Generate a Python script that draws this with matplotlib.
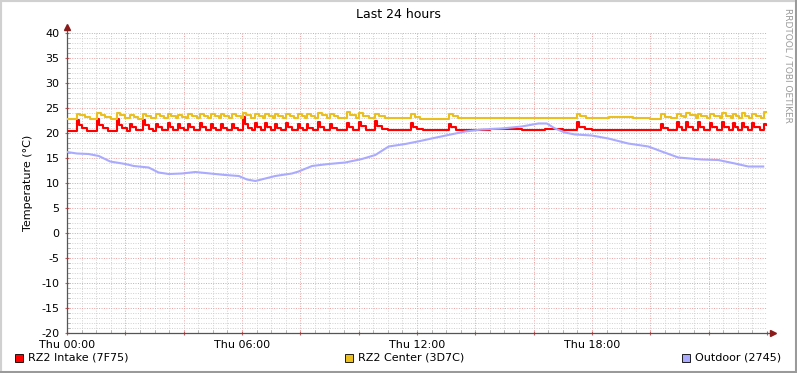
import matplotlib
matplotlib.use("Agg")
import matplotlib.pyplot as plt
from matplotlib.patches import Rectangle
from matplotlib.ticker import MultipleLocator

# hours since Thu 00:00, temperature in degC
intake = [
    (0.00, 20.4), (0.34, 22.6), (0.40, 21.6), (0.52, 21.0), (0.70, 20.4),
    (1.03, 22.9), (1.09, 21.7), (1.22, 21.0), (1.40, 20.4),
    (1.71, 22.9), (1.77, 21.6), (1.90, 21.0), (2.05, 20.5),
    (2.16, 21.9), (2.22, 21.2), (2.35, 20.6),
    (2.61, 22.6), (2.67, 21.6), (2.80, 20.9), (2.95, 20.5),
    (3.05, 21.9), (3.11, 21.2), (3.25, 20.6),
    (3.46, 22.0), (3.52, 21.2), (3.65, 20.6),
    (3.81, 21.9), (3.87, 21.1), (4.00, 20.6),
    (4.15, 21.9), (4.21, 21.2), (4.35, 20.6),
    (4.56, 22.0), (4.62, 21.2), (4.75, 20.6),
    (4.94, 21.9), (5.00, 21.1), (5.12, 20.6),
    (5.28, 21.9), (5.34, 21.1), (5.48, 20.6),
    (5.66, 21.9), (5.72, 21.1), (5.85, 20.6),
    (6.03, 23.2), (6.09, 21.8), (6.22, 21.0), (6.35, 20.6),
    (6.45, 22.0), (6.51, 21.2), (6.65, 20.6),
    (6.79, 22.0), (6.85, 21.2), (6.98, 20.6),
    (7.13, 21.9), (7.19, 21.1), (7.32, 20.6),
    (7.51, 22.0), (7.57, 21.2), (7.70, 20.6),
    (7.92, 21.9), (7.98, 21.1), (8.10, 20.6),
    (8.22, 21.9), (8.28, 21.1), (8.45, 20.6),
    (8.61, 22.2), (8.67, 21.3), (8.80, 20.6),
    (9.02, 21.9), (9.08, 21.1), (9.25, 20.6),
    (9.60, 22.0), (9.66, 21.2), (9.80, 20.6),
    (10.01, 22.3), (10.07, 21.4), (10.25, 20.6),
    (10.56, 22.5), (10.62, 21.5), (10.80, 20.9), (11.00, 20.6),
    (11.79, 22.1), (11.85, 21.3), (12.00, 20.8), (12.20, 20.6),
    (13.10, 21.9), (13.16, 21.2), (13.35, 20.7), (14.50, 20.8),
    (15.60, 20.7), (16.40, 20.8), (17.00, 20.7),
    (17.49, 22.3), (17.55, 21.3), (17.75, 20.8), (18.00, 20.7),
    (19.20, 20.6), (19.80, 20.7),
    (20.37, 21.8), (20.43, 21.1), (20.60, 20.6),
    (20.91, 22.3), (20.97, 21.3), (21.10, 20.6),
    (21.22, 22.3), (21.28, 21.3), (21.45, 20.6),
    (21.63, 22.2), (21.69, 21.3), (21.85, 20.6),
    (22.05, 22.0), (22.11, 21.2), (22.30, 20.6),
    (22.46, 22.2), (22.52, 21.2), (22.70, 20.6),
    (22.83, 22.0), (22.89, 21.2), (23.00, 20.6),
    (23.14, 22.0), (23.20, 21.2), (23.35, 20.6),
    (23.49, 22.0), (23.55, 21.2), (23.75, 20.6),
    (23.90, 21.9), (23.96, 21.6), (24.00, 21.6),
]

center = [
    (0.00, 22.8), (0.34, 23.9), (0.45, 23.6), (0.60, 23.2), (0.80, 22.9),
    (1.03, 24.0), (1.15, 23.6), (1.30, 23.2), (1.50, 22.9),
    (1.71, 24.0), (1.82, 23.6), (1.98, 23.1),
    (2.16, 23.6), (2.30, 23.2), (2.45, 22.9),
    (2.61, 23.9), (2.72, 23.5), (2.88, 23.1),
    (3.05, 23.8), (3.18, 23.4), (3.32, 23.0),
    (3.46, 23.8), (3.58, 23.4), (3.72, 23.0),
    (3.81, 23.7), (3.95, 23.3), (4.08, 23.0),
    (4.15, 23.8), (4.28, 23.4), (4.45, 23.0),
    (4.56, 23.8), (4.70, 23.4), (4.85, 23.0),
    (4.94, 23.8), (5.06, 23.4), (5.20, 23.0),
    (5.28, 23.8), (5.40, 23.4), (5.55, 23.0),
    (5.66, 23.8), (5.78, 23.4), (5.95, 23.0),
    (6.03, 24.0), (6.15, 23.6), (6.32, 23.1),
    (6.45, 23.9), (6.58, 23.5), (6.72, 23.0),
    (6.79, 23.9), (6.92, 23.5), (7.05, 23.0),
    (7.13, 23.8), (7.25, 23.4), (7.40, 23.0),
    (7.51, 23.9), (7.63, 23.5), (7.80, 23.0),
    (7.92, 23.8), (8.05, 23.4), (8.15, 23.0),
    (8.22, 23.8), (8.35, 23.4), (8.50, 23.0),
    (8.61, 24.1), (8.73, 23.6), (8.90, 23.1),
    (9.02, 23.9), (9.15, 23.5), (9.30, 23.0),
    (9.60, 24.2), (9.72, 23.6), (9.90, 23.1),
    (10.01, 24.0), (10.15, 23.5), (10.35, 23.1),
    (10.56, 23.9), (10.70, 23.5), (10.90, 23.1),
    (11.79, 23.8), (11.92, 23.3), (12.10, 22.9), (12.60, 22.8),
    (13.10, 23.9), (13.22, 23.4), (13.40, 23.0), (14.50, 23.1),
    (15.40, 23.0), (16.20, 23.1), (17.00, 23.0),
    (17.49, 23.9), (17.60, 23.4), (17.80, 23.1), (18.60, 23.2),
    (19.40, 23.0), (20.00, 22.9),
    (20.37, 23.8), (20.50, 23.3), (20.70, 23.0),
    (20.91, 23.9), (21.05, 23.5), (21.15, 23.2),
    (21.22, 24.1), (21.35, 23.6), (21.55, 23.1),
    (21.63, 23.9), (21.75, 23.5), (21.95, 23.1),
    (22.05, 23.8), (22.18, 23.4), (22.38, 23.0),
    (22.46, 24.0), (22.58, 23.5), (22.75, 23.1),
    (22.83, 23.9), (22.95, 23.4), (23.05, 23.1),
    (23.14, 24.0), (23.26, 23.5), (23.40, 23.1),
    (23.49, 23.8), (23.62, 23.4), (23.80, 23.0),
    (23.90, 24.3), (24.00, 24.3),
]

outdoor = [
    (0.00, 16.2), (0.34, 15.9), (0.74, 15.8), (1.09, 15.4), (1.48, 14.3),
    (2.00, 13.8), (2.29, 13.4), (2.80, 13.1), (3.14, 12.1), (3.49, 11.8),
    (3.94, 11.9), (4.40, 12.2), (4.91, 11.9), (5.43, 11.6), (5.89, 11.4),
    (6.17, 10.7), (6.46, 10.4), (6.80, 10.9), (7.14, 11.4), (7.71, 11.9),
    (7.94, 12.3), (8.40, 13.4), (8.97, 13.8), (9.54, 14.1), (10.11, 14.8),
    (10.57, 15.6), (11.03, 17.3), (11.60, 17.8), (12.11, 18.4), (12.50, 18.9),
    (13.07, 19.6), (13.65, 20.3), (14.22, 20.7), (14.90, 20.9), (15.59, 21.3),
    (16.16, 21.9), (16.45, 21.9), (16.73, 20.9), (17.07, 20.1), (17.42, 19.7),
    (17.99, 19.5), (18.56, 18.9), (19.24, 17.9), (19.93, 17.3), (20.39, 16.3),
    (20.96, 15.1), (21.76, 14.7), (22.33, 14.6), (22.90, 13.9), (23.36, 13.3),
    (23.87, 13.3),
]

tick_hours = [0, 6, 12, 18]
tick_labels = ["Thu 00:00", "Thu 06:00", "Thu 12:00", "Thu 18:00"]
legend_names = ["RZ2 Intake (7F75)", "RZ2 Center (3D7C)", "Outdoor (2745)"]
colors = ["#ff0000", "#eabf1f", "#aaaaff"]
styles = ["steps-post", "steps-post", "default"]

fig = plt.figure(figsize=(7.97, 3.73), dpi=100)
fig.patch.set_facecolor("white")
W, H = 797.0, 373.0

# frame around the whole image
fig.patches.append(Rectangle((0, 0), 1, 1, transform=fig.transFigure,
                             fill=False, edgecolor="#d0d0d0", linewidth=3))
fig.patches.append(Rectangle((0, 0), 1, 2.5 / H, transform=fig.transFigure,
                             facecolor="#9a9a9a", edgecolor="none"))
fig.patches.append(Rectangle((1 - 2.5 / W, 0), 2.5 / W, 1, transform=fig.transFigure,
                             facecolor="#9a9a9a", edgecolor="none"))

ax = fig.add_axes([67 / W, 40 / H, 700 / W, 300 / H])
ax.set_facecolor("white")

for data, c, ds in zip([intake, center, outdoor], colors, styles):
    t = [p[0] for p in data]
    v = [p[1] for p in data]
    ax.plot(t, v, color=c, linewidth=1.5, drawstyle=ds, zorder=3)

ax.set_xlim(0, 24)
ax.set_ylim(-20, 40)

ax.xaxis.set_major_locator(MultipleLocator(2))
ax.xaxis.set_minor_locator(MultipleLocator(0.5))
ax.yaxis.set_major_locator(MultipleLocator(5))
ax.yaxis.set_minor_locator(MultipleLocator(1))
ax.set_xticklabels([])
ax.set_yticks(range(-20, 41, 5))
ax.set_yticklabels([str(v) for v in range(-20, 41, 5)], fontsize=8)

ax.grid(which="minor", color="#d0d0d0", linestyle=(0, (1, 1.5)), linewidth=0.7)
ax.grid(which="major", color="#e6a0a0", linestyle=(0, (1, 1.5)), linewidth=0.7)
ax.set_axisbelow(True)

ax.tick_params(axis="both", which="major", length=3, width=0.8, color="#c06060",
               direction="inout", pad=4)
ax.tick_params(axis="both", which="minor", length=2, width=0.6, color="#aaaaaa",
               direction="in")
ax.tick_params(axis="y", labelsize=8)

for h, lab in zip(tick_hours, tick_labels):
    ax.text(h, -0.025, lab, transform=ax.get_xaxis_transform(), ha="center",
            va="top", fontsize=8)

for s in ["top", "right"]:
    ax.spines[s].set_visible(False)
for s in ["left", "bottom"]:
    ax.spines[s].set_color("#555555")
    ax.spines[s].set_linewidth(0.9)

# axis arrows
ax.plot([0, 0], [1, 1.015], transform=ax.transAxes, color="#555555",
        linewidth=0.9, clip_on=False)
ax.plot([0], [1.02], marker="^", markersize=5, color="#8b1a1a",
        transform=ax.transAxes, clip_on=False)
ax.plot([1, 1.005], [0, 0], transform=ax.transAxes, color="#555555",
        linewidth=0.9, clip_on=False)
ax.plot([1.008], [0], marker=">", markersize=5, color="#8b1a1a",
        transform=ax.transAxes, clip_on=False)

ax.set_ylabel("Temperature (°C)", fontsize=8, labelpad=6)

fig.text(0.5, 1 - 14 / H, "Last 24 hours", ha="center", va="center", fontsize=9)
fig.text(788 / W, 1 - 8 / H, "RRDTOOL / TOBI OETIKER", rotation=270, ha="center",
         va="top", fontsize=6.5, color="#999999")

# legend row
legend_x = [15, 345, 682]
for x0, name, c in zip(legend_x, legend_names, colors):
    fig.patches.append(Rectangle((x0 / W, (373 - 362) / H), 8 / W, 8 / H,
                                 transform=fig.transFigure, facecolor=c,
                                 edgecolor="black", linewidth=0.6))
    fig.text((x0 + 13) / W, (373 - 358) / H, name, ha="left", va="center",
             fontsize=8)

fig.savefig("out.png", dpi=100)
